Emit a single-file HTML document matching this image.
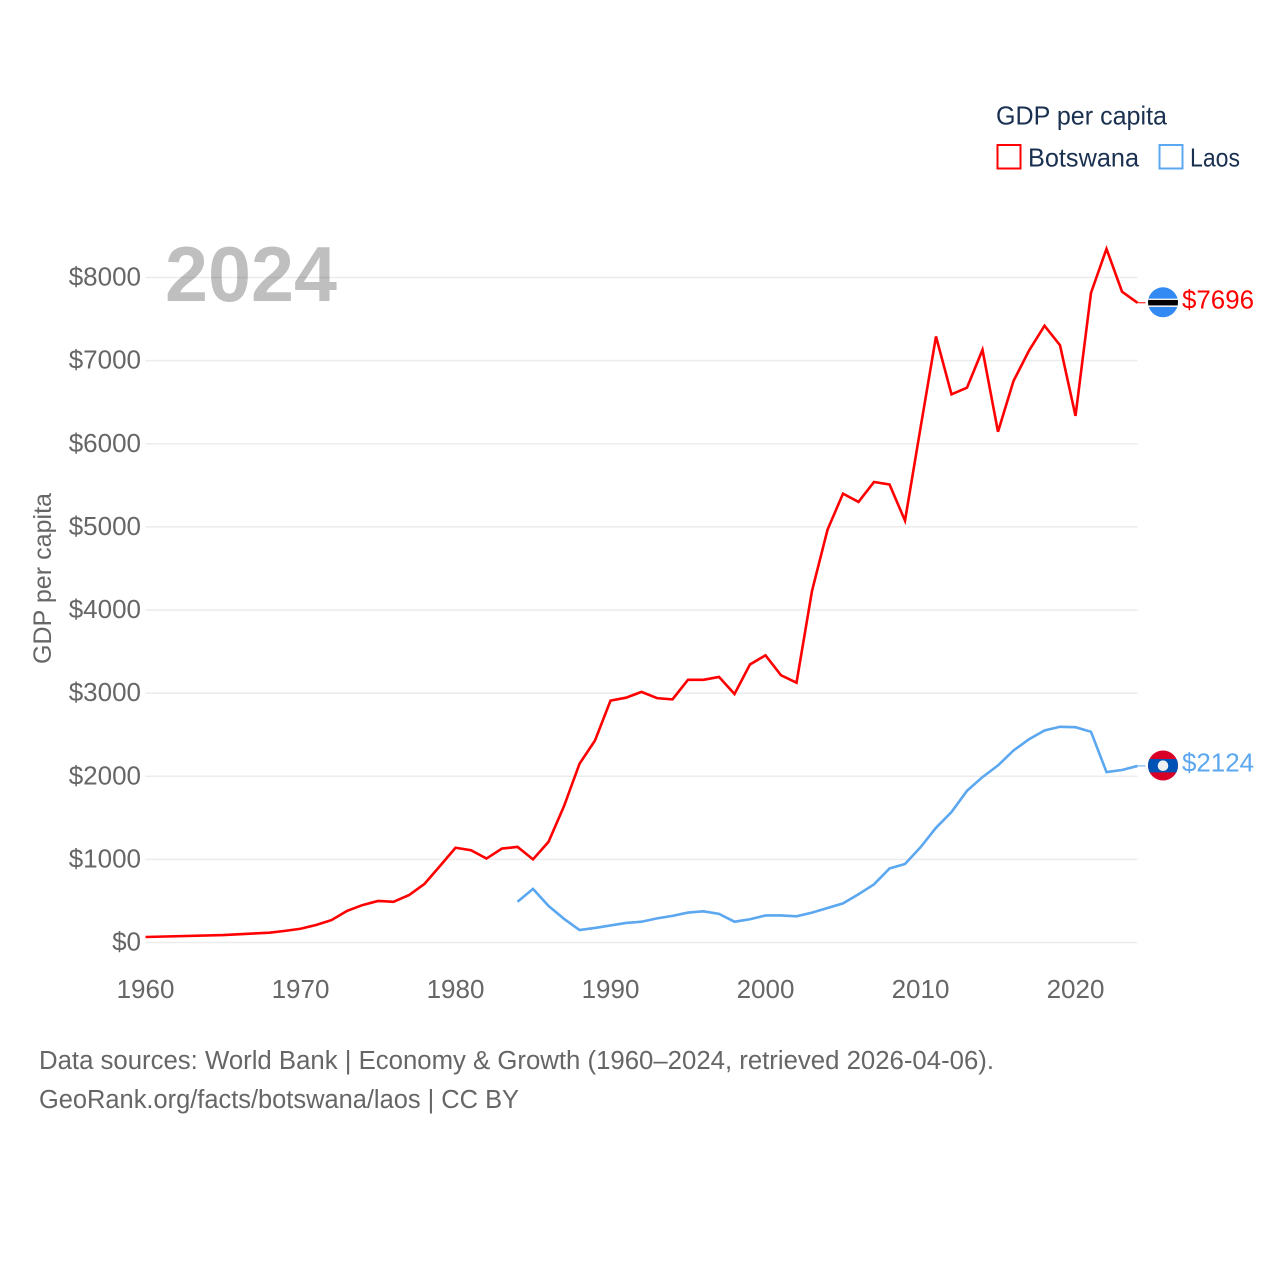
<!DOCTYPE html>
<html lang="en">
<head>
<meta charset="utf-8">
<title>GDP per capita: Botswana and Laos</title>
<style>
html,body{margin:0;padding:0;background:#fff;}
svg{display:block;}
text{font-family:"Liberation Sans",sans-serif;}
</style>
</head>
<body>
<svg id="chart" xmlns="http://www.w3.org/2000/svg" width="1280" height="1280" viewBox="0 0 1280 1280">
  <rect width="1280" height="1280" fill="#fff"/>
  <g id="grid"></g>
  <text x="165" y="301" font-size="78" font-weight="700" fill="#000" fill-opacity="0.25" textLength="172" lengthAdjust="spacingAndGlyphs">2024</text>
  <g id="yticks"></g>
  <g id="xticks"></g>
  <text transform="translate(51,664) rotate(-90)" font-size="25" fill="#666" textLength="171" lengthAdjust="spacingAndGlyphs">GDP per capita</text>
  <g id="series"></g>

  <g>
    <text x="996" y="124.5" font-size="26" fill="#1a3050" textLength="171" lengthAdjust="spacingAndGlyphs">GDP per capita</text>
    <rect x="997.5" y="145" width="23" height="23.5" fill="#fff" stroke="#ff0000" stroke-width="2"/>
    <text x="1028" y="166.5" font-size="26" fill="#1a3050" textLength="111" lengthAdjust="spacingAndGlyphs">Botswana</text>
    <rect x="1159.5" y="145" width="23" height="23.5" fill="#fff" stroke="#5ba7f0" stroke-width="2"/>
    <text x="1190" y="166.5" font-size="26" fill="#1a3050" textLength="50" lengthAdjust="spacingAndGlyphs">Laos</text>
  </g>

  <defs>
    <clipPath id="flag-clip-bw"><circle cx="1163" cy="302.3" r="15"/></clipPath>
    <clipPath id="flag-clip-la"><circle cx="1163" cy="765.5" r="15"/></clipPath>
  </defs>
  <g clip-path="url(#flag-clip-bw)">
    <rect x="1148" y="287" width="30" height="31" fill="#338af3"/>
    <rect x="1148" y="298.6" width="30" height="8.4" fill="#f0f0f0"/>
    <rect x="1148" y="300" width="30" height="5.4" fill="#000"/>
  </g>
  <g clip-path="url(#flag-clip-la)">
    <rect x="1148" y="750" width="30" height="31" fill="#d80027"/>
    <rect x="1148" y="759" width="30" height="13.4" fill="#0052b4"/>
    <circle cx="1163" cy="765.7" r="5.3" fill="#f0f0f0"/>
  </g>
  <text x="1182" y="308.5" font-size="26" fill="#ff0000" textLength="72" lengthAdjust="spacingAndGlyphs">$7696</text>
  <text x="1182" y="771.5" font-size="26" fill="#5ba7f0" textLength="72" lengthAdjust="spacingAndGlyphs">$2124</text>

  <text x="39" y="1069" font-size="25.5" fill="#666" textLength="955" lengthAdjust="spacingAndGlyphs">Data sources: World Bank | Economy &amp; Growth (1960–2024, retrieved 2026-04-06).</text>
  <text x="39" y="1108" font-size="25.5" fill="#666" textLength="480" lengthAdjust="spacingAndGlyphs">GeoRank.org/facts/botswana/laos | CC BY</text>
</svg>
<script>
const botswanaYears = [1960,1965,1968,1969,1970,1971,1972,1973,1974,1975,1976,1977,1978,1979,1980,1981,1982,1983,1984,1985,1986,1987,1988,1989,1990,1991,1992,1993,1994,1995,1996,1997,1998,1999,2000,2001,2002,2003,2004,2005,2006,2007,2008,2009,2010,2011,2012,2013,2014,2015,2016,2017,2018,2019,2020,2021,2022,2023,2024];
const botswanaValues = [66,90,118,140,165,210,270,380,450,500,490,570,705,920,1140,1110,1010,1130,1150,1000,1210,1640,2150,2430,2910,2945,3015,2940,2925,3160,3160,3195,2990,3345,3455,3215,3125,4230,4965,5400,5300,5540,5510,5075,6190,7290,6595,6675,7130,6145,6755,7120,7420,7185,6335,7815,8345,7830,7696];
const laosYears = [1984,1985,1986,1987,1988,1989,1990,1991,1992,1993,1994,1995,1996,1997,1998,1999,2000,2001,2002,2003,2004,2005,2006,2007,2008,2009,2010,2011,2012,2013,2014,2015,2016,2017,2018,2019,2020,2021,2022,2023,2024];
const laosValues = [490,645,440,285,150,175,205,235,250,290,320,360,375,345,250,280,325,325,315,360,415,470,580,700,890,945,1145,1380,1570,1825,1990,2130,2310,2445,2550,2595,2590,2535,2050,2075,2124];
const yTickValues = [0,1000,2000,3000,4000,5000,6000,7000,8000];
const yTickLabels = ["$0","$1000","$2000","$3000","$4000","$5000","$6000","$7000","$8000"];
const xTickValues = [1960,1970,1980,1990,2000,2010,2020];
const xTickLabels = ["1960","1970","1980","1990","2000","2010","2020"];

const NS = 'http://www.w3.org/2000/svg';
const xLeft = 145.5, xRight = 1137.5, yZero = 942.5, yTop = 277.5;
function xScale(year){ return xLeft + (year - 1960) * (xRight - xLeft) / (2024 - 1960); }
function yScale(value){ return yZero - value * (yZero - yTop) / 8000; }
function make(tag, parentId){
  const el = document.createElementNS(NS, tag);
  document.getElementById(parentId).appendChild(el);
  return el;
}

yTickValues.forEach(function(v, i){
  const line = make('line', 'grid');
  
  
  line.setAttribute('x1', xLeft);
  line.setAttribute('x2', xRight);
  line.setAttribute('y1', yScale(v));
  line.setAttribute('y2', yScale(v));
  line.setAttribute('stroke', '#ececec');
  line.setAttribute('stroke-width', '1.5');

  const t = make('text', 'yticks');
  
  
  t.setAttribute('x', 141);
  t.setAttribute('y', yScale(v) + 8);
  t.setAttribute('text-anchor', 'end');
  t.setAttribute('font-size', '26');
  t.setAttribute('fill', '#666');
  t.textContent = yTickLabels[i];
});

xTickValues.forEach(function(v, i){
  const t = make('text', 'xticks');
  
  
  t.setAttribute('x', xScale(v));
  t.setAttribute('y', 998);
  t.setAttribute('text-anchor', 'middle');
  t.setAttribute('font-size', '26');
  t.setAttribute('fill', '#666');
  t.textContent = xTickLabels[i];
});

function drawSeries(years, values, color, name){
  const p = make('polyline', 'series');
  
  
  p.setAttribute('points', years.map(function(y, i){ return xScale(y).toFixed(2) + ',' + yScale(values[i]).toFixed(2); }).join(' '));
  p.setAttribute('fill', 'none');
  p.setAttribute('stroke', color);
  p.setAttribute('stroke-width', '2.6');
  p.setAttribute('stroke-linejoin', 'miter');

  const c = make('line', 'series');
  
  
  const last = values[values.length - 1];
  c.setAttribute('x1', xScale(years[years.length - 1]));
  c.setAttribute('x2', xScale(years[years.length - 1]) + 8);
  c.setAttribute('y1', yScale(last));
  c.setAttribute('y2', yScale(last));
  c.setAttribute('stroke', color);
  c.setAttribute('stroke-width', '1');
}
drawSeries(botswanaYears, botswanaValues, '#ff0000', 'series-botswana');
drawSeries(laosYears, laosValues, '#5ba7f0', 'series-laos');
</script>
</body>
</html>
